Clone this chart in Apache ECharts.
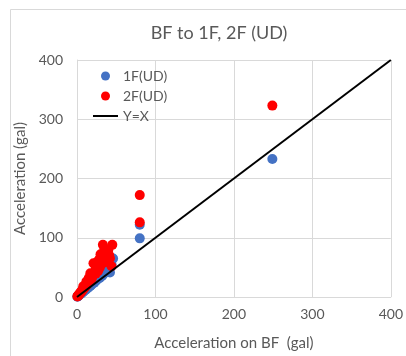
<!DOCTYPE html>
<html>
<head>
<meta charset="utf-8">
<script src="https://cdn.jsdelivr.net/npm/echarts@6/dist/echarts.min.js"></script>
<style>
  html, body { margin: 0; padding: 0; background: #fff; }
  #chart { width: 406px; height: 356px; }
</style>
</head>
<body>
<div id="chart"></div>
<script>
// Peak accelerations: basement (BF) vs. 1F and 2F, vertical (UD) component, in gal
const floor1F = [
  [0.5, 0.6], [1, 1.2], [1.5, 1.8], [2, 2.1], [2.5, 3], [3, 3.4], [3.5, 4.2], [4, 4.5],
  [5, 5.6], [5.5, 6.8], [6, 6.6], [7, 8.1], [7.5, 8.3], [8, 9.5], [9, 10.2], [10, 11.8],
  [11, 12.4], [12, 13.1], [13, 15.2], [14, 15.8], [15, 16.5], [16, 18.7], [17, 19.2],
  [18, 20.1], [19, 22.5], [20, 22.8], [21, 24.6], [22, 24.1], [23, 26.3], [24, 27.5],
  [25, 28.2], [26, 30.5], [27, 31.2], [28, 32.8], [29, 32.1], [30, 34.6], [31, 36.2],
  [32, 35.3], [33, 38.1], [34, 39.4], [35, 40.2], [36, 41.5], [37, 44.3], [38, 42.6],
  [39, 46.1], [40, 48.2], [41, 44.8], [42, 41.2], [43, 50.6], [44, 55.3], [45, 64.8],
  [46, 65], [80, 99], [80, 122], [249, 233]
];
const floor2F = [
  [0.5, 0.8], [1, 1.6], [1.5, 2.5], [2, 3.2], [2.5, 4.1], [3, 4.6], [3.5, 5.8], [4, 6.3],
  [4.5, 7.5], [5, 8.2], [6, 9.6], [6.5, 11.2], [7, 11.5], [8, 12.8], [8, 18], [8.5, 14.6],
  [9, 15.1], [10, 16.2], [11, 18.5], [12, 19.4], [12, 26], [12.5, 22.1], [13, 21.2],
  [14, 23.8], [15, 24.5], [15, 32], [16, 27.2], [17, 28.1], [17, 40], [18, 30.6],
  [18.5, 34.2], [19, 31.5], [20, 36.8], [21, 38.5], [21, 57], [22, 40.2], [23, 42.6],
  [24, 39.5], [24, 50], [25, 45.3], [26, 47.8], [26, 60], [27, 44.1], [28, 51.2],
  [29, 49.6], [29, 65], [30, 53.5], [30, 72], [31, 56.8], [32, 60.2], [33, 88], [34, 63.5],
  [35, 58.4], [35, 80], [36, 68.2], [37, 72.5], [38, 66.1], [39, 75.3], [40, 79.6],
  [41, 70.2], [42, 65.4], [44, 52], [45, 88], [80, 126], [80, 172], [249, 323]
];
const refLine = [[0, 0], [400, 400]];

const titleText = 'BF to 1F, 2F (UD)';
const xName = 'Acceleration on BF  (gal)';
const yName = 'Acceleration (gal)';
const seriesNames = ['1F(UD)', '2F(UD)', 'Y=X'];

const FONT = 'Lato';
const GREY = '#595959';
const GRID = '#d9d9d9';

const chart = echarts.init(document.getElementById('chart'), null, { renderer: 'canvas' });

chart.setOption({
  animation: false,
  backgroundColor: '#fff',
  textStyle: { fontFamily: FONT },
  title: {
    text: titleText,
    left: 214,
    top: 19,
    textAlign: 'center',
    textStyle: { fontFamily: FONT, fontSize: 18, fontWeight: 'normal', color: GREY }
  },
  graphic: [{
    type: 'rect',
    shape: { x: 10.5, y: 9.5, width: 600, height: 600 },
    style: { fill: 'none', stroke: GRID, lineWidth: 1 },
    silent: true,
    z: -1
  }],
  grid: { left: 77, right: 13, top: 60, bottom: 55, containLabel: false },
  legend: {
    orient: 'vertical',
    left: 88,
    top: 64,
    itemWidth: 25,
    itemHeight: 9,
    itemGap: 6,
    textStyle: { fontFamily: FONT, fontSize: 14, color: GREY },
    data: [
      { name: seriesNames[0], icon: 'circle' },
      { name: seriesNames[1], icon: 'circle' },
      { name: seriesNames[2], icon: 'path://M0,0 L25,0 L25,2 L0,2 Z' }
    ]
  },
  xAxis: {
    type: 'value',
    min: 0, max: 400, interval: 100,
    name: xName,
    nameLocation: 'middle',
    nameGap: 39,
    nameTextStyle: { fontFamily: FONT, fontSize: 15, color: GREY },
    axisLine: { show: true, lineStyle: { color: GRID, width: 1 } },
    axisTick: { show: false },
    axisLabel: { fontFamily: FONT, fontSize: 14, color: GREY, margin: 10 },
    splitLine: { show: true, lineStyle: { color: GRID, width: 1 } }
  },
  yAxis: {
    type: 'value',
    min: 0, max: 400, interval: 100,
    name: yName,
    nameLocation: 'middle',
    nameGap: 48,
    nameTextStyle: { fontFamily: FONT, fontSize: 15, color: GREY },
    axisLine: { show: true, lineStyle: { color: GRID, width: 1 } },
    axisTick: { show: false },
    axisLabel: { fontFamily: FONT, fontSize: 14, color: GREY, margin: 14 },
    splitLine: { show: true, lineStyle: { color: GRID, width: 1 } }
  },
  series: [
    {
      name: seriesNames[0],
      type: 'scatter',
      data: floor1F,
      symbol: 'circle',
      symbolSize: 10,
      itemStyle: { color: '#4472C4', opacity: 1 },
      z: 2
    },
    {
      name: seriesNames[1],
      type: 'scatter',
      data: floor2F,
      symbol: 'circle',
      symbolSize: 10,
      itemStyle: { color: '#FF0000', opacity: 1 },
      z: 3
    },
    {
      name: seriesNames[2],
      type: 'line',
      data: refLine,
      symbol: 'none',
      lineStyle: { color: '#000', width: 2 },
      itemStyle: { color: '#000' },
      z: 4
    }
  ]
});
</script>
</body>
</html>
